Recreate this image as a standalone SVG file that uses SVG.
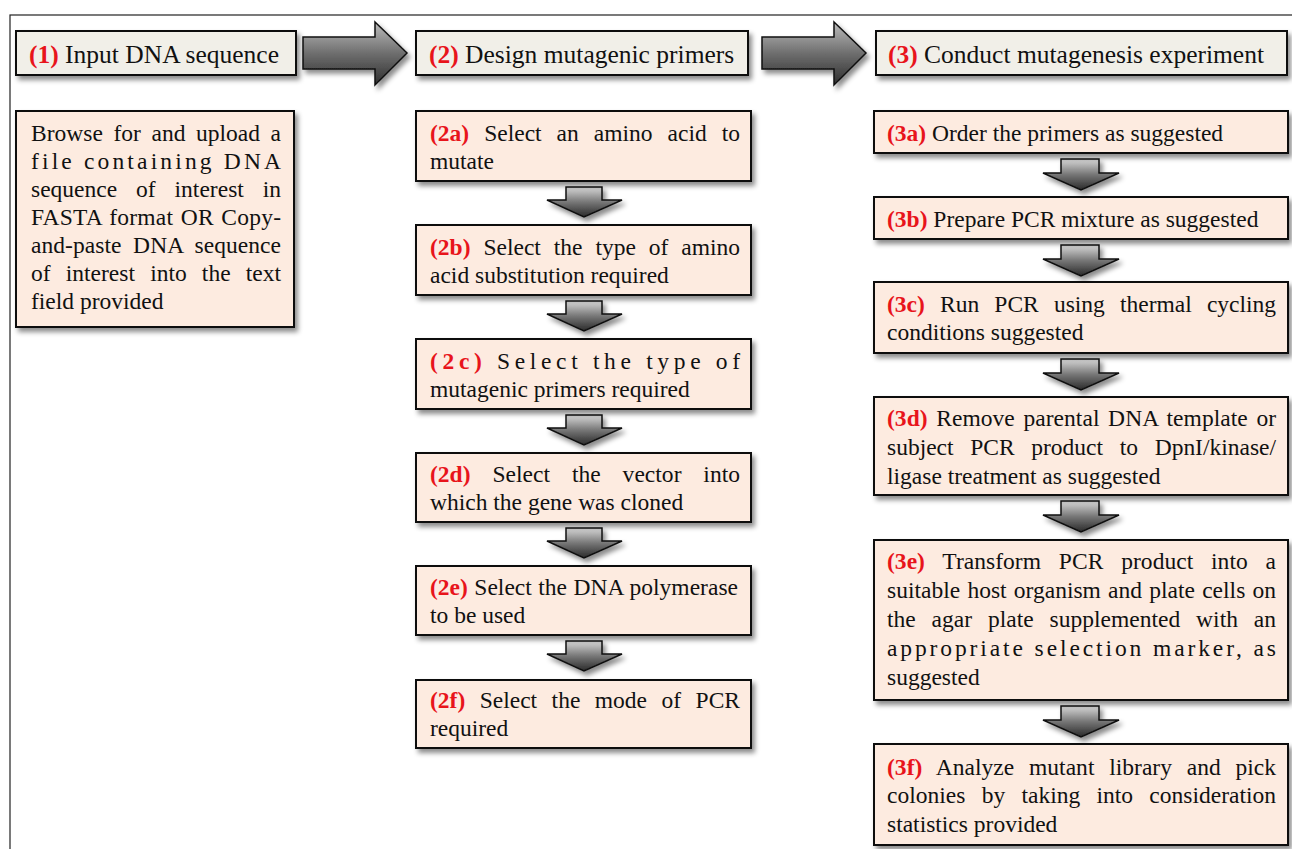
<svg xmlns="http://www.w3.org/2000/svg" width="1292" height="849" viewBox="0 0 1292 849">
<defs>
<filter id="sh" x="-10%" y="-10%" width="130%" height="140%">
<feDropShadow dx="3" dy="4" stdDeviation="2.5" flood-color="#000" flood-opacity="0.45"/>
</filter>
<linearGradient id="gBig" x1="0" y1="0" x2="0" y2="1">
<stop offset="0" stop-color="#bdbdbd"/>
<stop offset="0.5" stop-color="#6e6e6e"/>
<stop offset="1" stop-color="#2e2e2e"/>
</linearGradient>
<linearGradient id="gSm" x1="0" y1="0" x2="0" y2="1">
<stop offset="0" stop-color="#d8d8d8"/>
<stop offset="0.5" stop-color="#777"/>
<stop offset="1" stop-color="#2a2a2a"/>
</linearGradient>
</defs>
<style>
.hd{fill:#f1efe8;stroke:#111;stroke-width:2;filter:url(#sh)}
.bx{fill:#fdebe0;stroke:#111;stroke-width:2;filter:url(#sh)}
.ar{stroke:#111;stroke-width:1.5;filter:url(#sh)}
text{font-family:"Liberation Serif","Times New Roman",serif;fill:#111}
.h{font-size:25.5px}
.t{font-size:23.5px}
.r{fill:#e8141b;font-weight:bold}
</style>
<rect x="10" y="15" width="1300" height="850" fill="#fff" stroke="#222" stroke-width="1.2"/>

<g id="connectors">
<path class="ar" fill="url(#gBig)" d="M303,37 H375 V22 L407,53 L375,85 V69 H303 Z"/>
<path class="ar" fill="url(#gBig)" d="M762,37 H834 V22 L866,53 L834,85 V69 H762 Z"/>
<g fill="url(#gSm)">
<path class="ar" d="M566,187 H602 V200 H622 L584,217 L547,200 H566 Z"/>
<path class="ar" d="M566,301 H602 V314 H622 L584,331 L547,314 H566 Z"/>
<path class="ar" d="M566,415 H602 V428 H622 L584,445 L547,428 H566 Z"/>
<path class="ar" d="M566,528 H602 V541 H622 L584,558 L547,541 H566 Z"/>
<path class="ar" d="M566,641 H602 V654 H622 L584,671 L547,654 H566 Z"/>
<path class="ar" d="M1061,159 H1099 V173 H1119 L1081,190 L1043,173 H1061 Z"/>
<path class="ar" d="M1061,245 H1099 V259 H1119 L1081,276 L1043,259 H1061 Z"/>
<path class="ar" d="M1061,359 H1099 V373 H1119 L1081,390 L1043,373 H1061 Z"/>
<path class="ar" d="M1061,501 H1099 V515 H1119 L1081,532 L1043,515 H1061 Z"/>
<path class="ar" d="M1061,706 H1099 V720 H1119 L1081,737 L1043,720 H1061 Z"/>
</g>
</g>

<g id="h1">
<rect class="hd" x="16" y="31" width="280" height="44"/>
<text class="h" x="29" y="63"><tspan class="r">(1)</tspan> Input DNA sequence</text>
</g>
<g id="h2">
<rect class="hd" x="416" y="31" width="332" height="44"/>
<text class="h" x="429" y="63"><tspan class="r">(2)</tspan> Design mutagenic primers</text>
</g>
<g id="h3">
<rect class="hd" x="876" y="31" width="411" height="44"/>
<text class="h" x="888" y="63"><tspan class="r">(3)</tspan> Conduct mutagenesis experiment</text>
</g>

<g id="b1">
<rect class="bx" x="16" y="111" width="278" height="216"/>
<text class="t" x="31" y="141" textLength="250" lengthAdjust="spacing" word-spacing="4.7">Browse for and upload a</text>
<text class="t" x="31" y="169" textLength="250" lengthAdjust="spacing">file containing DNA</text>
<text class="t" x="31" y="197" textLength="250" lengthAdjust="spacing" word-spacing="13">sequence of interest in</text>
<text class="t" x="31" y="225" textLength="250" lengthAdjust="spacing" word-spacing="1.3">FASTA format OR Copy-</text>
<text class="t" x="31" y="253" textLength="250" lengthAdjust="spacing" word-spacing="5.6">and-paste DNA sequence</text>
<text class="t" x="31" y="281" textLength="250" lengthAdjust="spacing" word-spacing="9.3">of interest into the text</text>
<text class="t" x="31" y="309">field provided</text>
</g>

<g id="b2a">
<rect class="bx" x="416" y="111" width="335" height="70"/>
<text class="t" x="430" y="141" textLength="310" lengthAdjust="spacing" word-spacing="9.1"><tspan class="r">(2a)</tspan> Select an amino acid to</text>
<text class="t" x="430" y="169">mutate</text>
</g>
<g id="b2b">
<rect class="bx" x="416" y="225" width="335" height="70"/>
<text class="t" x="430" y="255" textLength="310" lengthAdjust="spacing" word-spacing="7"><tspan class="r">(2b)</tspan> Select the type of amino</text>
<text class="t" x="430" y="283">acid substitution required</text>
</g>
<g id="b2c">
<rect class="bx" x="416" y="339" width="335" height="70"/>
<text class="t" x="430" y="369" textLength="310" lengthAdjust="spacing"><tspan class="r">(2c)</tspan> Select the type of</text>
<text class="t" x="430" y="397">mutagenic primers required</text>
</g>
<g id="b2d">
<rect class="bx" x="416" y="453" width="335" height="69"/>
<text class="t" x="430" y="482" textLength="310" lengthAdjust="spacing" word-spacing="16"><tspan class="r">(2d)</tspan> Select the vector into</text>
<text class="t" x="430" y="510">which the gene was cloned</text>
</g>
<g id="b2e">
<rect class="bx" x="416" y="566" width="335" height="69"/>
<text class="t" x="430" y="595" textLength="308" lengthAdjust="spacing" word-spacing="0.5"><tspan class="r">(2e)</tspan> Select the DNA polymerase</text>
<text class="t" x="430" y="623">to be used</text>
</g>
<g id="b2f">
<rect class="bx" x="416" y="680" width="335" height="68"/>
<text class="t" x="430" y="708" textLength="310" lengthAdjust="spacing" word-spacing="8.6"><tspan class="r">(2f)</tspan> Select the mode of PCR</text>
<text class="t" x="430" y="736">required</text>
</g>

<g id="b3a">
<rect class="bx" x="874" y="111" width="414" height="42"/>
<text class="t" x="887" y="141"><tspan class="r">(3a)</tspan> Order the primers as suggested</text>
</g>
<g id="b3b">
<rect class="bx" x="874" y="197" width="414" height="42"/>
<text class="t" x="887" y="227"><tspan class="r">(3b)</tspan> Prepare PCR mixture as suggested</text>
</g>
<g id="b3c">
<rect class="bx" x="874" y="282" width="414" height="71"/>
<text class="t" x="887" y="312" textLength="389" lengthAdjust="spacing" word-spacing="9.3"><tspan class="r">(3c)</tspan> Run PCR using thermal cycling</text>
<text class="t" x="887" y="340">conditions suggested</text>
</g>
<g id="b3d">
<rect class="bx" x="874" y="397" width="414" height="98"/>
<text class="t" x="887" y="426" textLength="389" lengthAdjust="spacing" word-spacing="2.7"><tspan class="r">(3d)</tspan> Remove parental DNA template or</text>
<text class="t" x="887" y="455" textLength="389" lengthAdjust="spacing" word-spacing="10.8">subject PCR product to DpnI/kinase/</text>
<text class="t" x="887" y="484">ligase treatment as suggested</text>
</g>
<g id="b3e">
<rect class="bx" x="874" y="540" width="414" height="160"/>
<text class="t" x="887" y="569" textLength="389" lengthAdjust="spacing" word-spacing="11.9"><tspan class="r">(3e)</tspan> Transform PCR product into a</text>
<text class="t" x="887" y="598" textLength="389" lengthAdjust="spacing" word-spacing="1.3">suitable host organism and plate cells on</text>
<text class="t" x="887" y="627" textLength="389" lengthAdjust="spacing" word-spacing="10">the agar plate supplemented with an</text>
<text class="t" x="887" y="656" textLength="389" lengthAdjust="spacing">appropriate selection marker, as</text>
<text class="t" x="887" y="685">suggested</text>
</g>
<g id="b3f">
<rect class="bx" x="874" y="744" width="414" height="101"/>
<text class="t" x="887" y="775" textLength="389" lengthAdjust="spacing" word-spacing="8.8"><tspan class="r">(3f)</tspan> Analyze mutant library and pick</text>
<text class="t" x="887" y="803" textLength="389" lengthAdjust="spacing" word-spacing="10.4">colonies by taking into consideration</text>
<text class="t" x="887" y="832">statistics provided</text>
</g>
</svg>
